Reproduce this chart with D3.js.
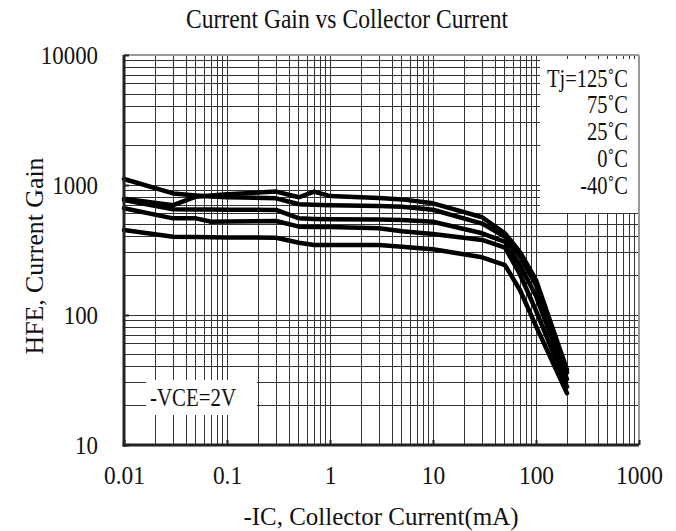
<!DOCTYPE html>
<html>
<head>
<meta charset="utf-8">
<script src="https://cdn.jsdelivr.net/npm/d3@7"></script>
<style>
  html, body { margin: 0; padding: 0; background: #fff; }
  svg { display: block; }
  text { font-family: "Liberation Serif", "Times New Roman", serif; fill: #111; }
</style>
</head>
<body>
<svg id="chart" width="676" height="531"></svg>
<script>
// Collector current (mA) at which each curve is sampled
const currentMA = [0.01, 0.03, 0.05, 0.07, 0.1, 0.3, 0.5, 0.7, 1, 3, 5, 10, 30, 50, 70, 100, 200];

// DC current gain for each junction temperature
const gainA = [1112, 861, 830, 815, 805, 790, 711, 705, 700, 690, 680, 645, 505, 400, 280, 170, 36];
const gainB = [785, 700, 813, 830, 850, 890, 805, 890, 822, 795, 775, 723, 565, 425, 305, 186, 38];
const gainC = [767, 650, 648, 647, 646, 643, 554, 548, 545, 542, 538, 522, 425, 365, 240, 140, 32];
const gainD = [662, 554, 554, 522, 524, 528, 478, 475, 475, 465, 440, 420, 378, 330, 205, 108, 28];
const gainE = [450, 400, 398, 396, 395, 393, 360, 345, 345, 345, 335, 320, 278, 242, 155, 82, 25];

const legendLabels = ["Tj=125\u02DAC", "75\u02DAC", "25\u02DAC", "0\u02DAC", "-40\u02DAC"];
const conditionLabel = "-VCE=2V";

const xTickValues = [0.01, 0.1, 1, 10, 100, 1000];
const xTickLabels = ["0.01", "0.1", "1", "10", "100", "1000"];
const yTickValues = [10, 100, 1000, 10000];
const yTickLabels = ["10", "100", "1000", "10000"];

const titleText = "Current Gain vs Collector Current";
const xTitle = "-IC, Collector Current(mA)";
const yTitle = "HFE, Current Gain";

const svg = d3.select("#chart");
const plotLeft = 124, plotRight = 639, plotTop = 55, plotBottom = 445;

const x = d3.scaleLog().domain([0.01, 1000]).range([plotLeft, plotRight]);
const y = d3.scaleLog().domain([10, 10000]).range([plotBottom, plotTop]);

svg.append("rect").attr("width", 676).attr("height", 531).attr("fill", "#fff");

// narrow serif look: squeeze glyphs horizontally
function squeeze(sel, factor) {
  sel.each(function () {
    const w = this.getComputedTextLength();
    d3.select(this).attr("textLength", w * factor).attr("lengthAdjust", "spacingAndGlyphs");
  });
}
function fitWidth(sel, w) {
  sel.attr("textLength", w).attr("lengthAdjust", "spacingAndGlyphs");
}

// log grid
const grid = svg.append("g").attr("shape-rendering", "crispEdges")
  .attr("stroke", "#333").attr("stroke-width", 1);
grid.selectAll("line.v").data(x.ticks()).join("line").attr("class", "v")
  .attr("x1", d => x(d)).attr("x2", d => x(d)).attr("y1", plotTop).attr("y2", plotBottom);
grid.selectAll("line.h").data(y.ticks()).join("line").attr("class", "h")
  .attr("x1", plotLeft).attr("x2", plotRight).attr("y1", d => y(d)).attr("y2", d => y(d));

// frame: light top/right, heavy left/bottom
svg.append("line").attr("x1", plotLeft).attr("x2", plotRight).attr("y1", plotTop).attr("y2", plotTop)
  .attr("stroke", "#999").attr("stroke-width", 2);
svg.append("line").attr("x1", plotRight).attr("x2", plotRight).attr("y1", plotTop).attr("y2", plotBottom)
  .attr("stroke", "#999").attr("stroke-width", 2);

// legend panel and condition panel knock out the grid
svg.append("rect").attr("x", 540).attr("y", 59).attr("width", plotRight - 541).attr("height", 154).attr("fill", "#fff");
svg.append("rect").attr("x", 146).attr("y", 380).attr("width", 111).attr("height", 35).attr("fill", "#fff");

// curves
const line = d3.line().x(d => x(d[0])).y(d => y(d[1]));
const series = [gainA, gainB, gainC, gainD, gainE];
svg.append("g").selectAll("path").data(series).join("path")
  .attr("d", s => line(currentMA.map((c, i) => [c, s[i]])))
  .attr("fill", "none").attr("stroke", "#000").attr("stroke-width", 4.5)
  .attr("stroke-linejoin", "round").attr("stroke-linecap", "round");

// axes
const xAxis = svg.append("g").attr("transform", `translate(0,${plotBottom})`)
  .call(d3.axisBottom(x).tickValues(xTickValues).tickFormat((d, i) => xTickLabels[i])
    .tickSize(-5).tickPadding(21));
const yAxis = svg.append("g").attr("transform", `translate(${plotLeft},0)`)
  .call(d3.axisLeft(y).tickValues(yTickValues).tickFormat((d, i) => yTickLabels[i])
    .tickSize(-5).tickPadding(26));
[xAxis, yAxis].forEach(a => {
  a.select(".domain").remove();
  a.selectAll(".tick line").attr("stroke", "#222").attr("stroke-width", 2);
  a.selectAll(".tick text").attr("font-size", 26).attr("fill", "#111")
    .style("font-family", '"Liberation Serif", "Times New Roman", serif');
});
xAxis.selectAll(".tick text").attr("dy", "0.71em");
squeeze(xAxis.selectAll(".tick text"), 0.9);
squeeze(yAxis.selectAll(".tick text"), 0.88);

svg.append("line").attr("x1", plotLeft).attr("x2", plotLeft).attr("y1", plotTop).attr("y2", plotBottom + 1.5)
  .attr("stroke", "#222").attr("stroke-width", 3);
svg.append("line").attr("x1", plotLeft - 1.5).attr("x2", plotRight).attr("y1", plotBottom).attr("y2", plotBottom)
  .attr("stroke", "#222").attr("stroke-width", 3);

// titles
svg.append("text").attr("x", 347).attr("y", 28).attr("text-anchor", "middle")
  .attr("font-size", 27).text(titleText).call(fitWidth, 322);
svg.append("text").attr("x", 381).attr("y", 525).attr("text-anchor", "middle")
  .attr("font-size", 26).text(xTitle).call(fitWidth, 275);
svg.append("text").attr("transform", "translate(43,256) rotate(-90)").attr("text-anchor", "middle")
  .attr("font-size", 26).text(yTitle).call(fitWidth, 197);

// temperature legend
const legendY = [78, 104, 131, 158, 185];
svg.append("g").selectAll("text").data(legendLabels).join("text")
  .attr("x", 628).attr("y", (d, i) => legendY[i] + 8.5).attr("text-anchor", "end")
  .attr("font-size", 25).text(d => d).call(squeeze, 0.82);

svg.append("text").attr("x", 193).attr("y", 406).attr("text-anchor", "middle")
  .attr("font-size", 25).text(conditionLabel).call(fitWidth, 86);
</script>
</body>
</html>
